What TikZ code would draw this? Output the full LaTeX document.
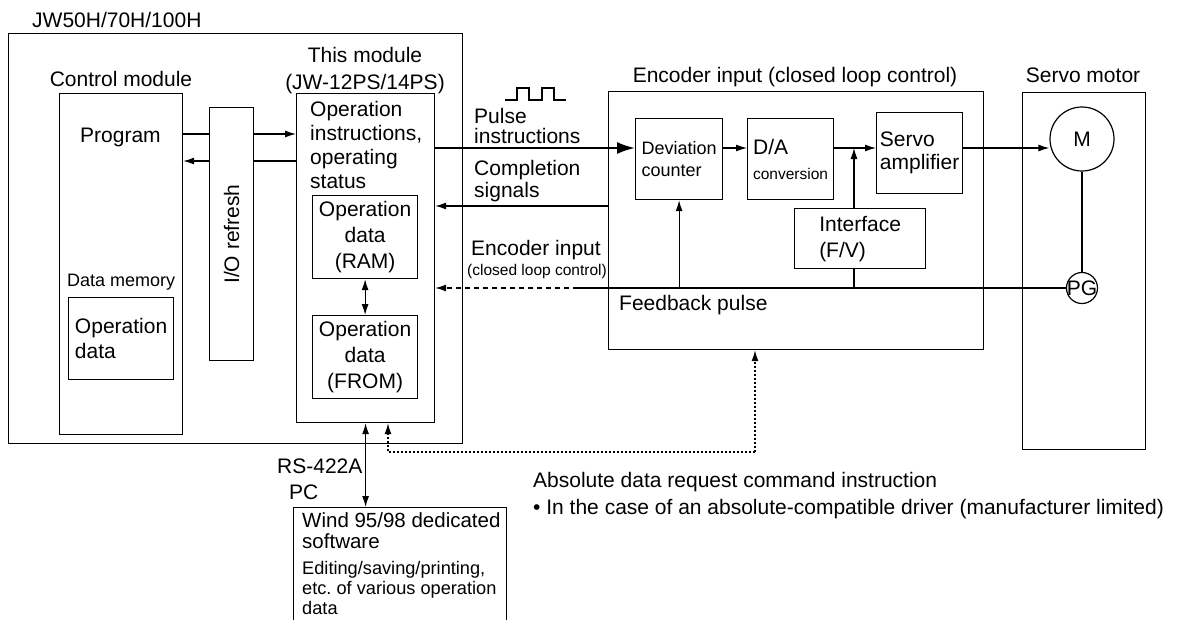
\documentclass[tikz,border=0pt]{standalone}
\usepackage{fontspec}
\setmainfont{Liberation Sans}
\usetikzlibrary{positioning,arrows.meta}
\frenchspacing

\tikzset{
  blk/.style={draw, line width=1.2pt, anchor=north west},
  ring/.style={draw, circle, line width=1.2pt},
  lbl/.style={anchor=base west, align=left},
  wire/.style={line width=1.2pt},
  arr/.style={wire, -{Latex[length=11pt,width=7pt]}},
  darr/.style={wire, {Latex[length=11pt,width=7pt]}-{Latex[length=11pt,width=7pt]}},
  bigarr/.style={line width=2pt, -{Latex[length=18pt,width=12pt]}},
  smallf/.style={font=\fontsize{18}{22}\selectfont},
  tinyf/.style={font=\fontsize{15.5}{18}\selectfont},
}

\begin{document}
\begin{tikzpicture}[x=1pt, y=-1pt, every node/.style={inner sep=0pt, font=\fontsize{21}{24}\selectfont}]
\useasboundingbox (0,0) rectangle (1188,619);

% boxes
\draw (8,33) node [blk, minimum width=454pt, minimum height=410pt] (jw) {};
\draw (59,93) node [blk, minimum width=123pt, minimum height=341pt] (ctrl) {};
\draw (209,107) node [blk, minimum width=44pt, minimum height=253pt] (io) {};
\draw (296,93) node [blk, minimum width=138pt, minimum height=329pt] (mod) {};
\draw (312,195) node [blk, minimum width=105pt, minimum height=83pt, align=center, font=\fontsize{21}{26}\selectfont] (ram) {Operation\\data\\(RAM)};
\draw (312,315) node [blk, minimum width=105pt, minimum height=83pt, align=center, font=\fontsize{21}{26}\selectfont] (from) {Operation\\data\\(FROM)};
\draw (68,297) node [blk, minimum width=105pt, minimum height=82pt, align=left, font=\fontsize{21}{25}\selectfont] (opd) {Operation\\data};
\draw (608,91) node [blk, minimum width=375pt, minimum height=258pt] (enc) {};
\draw (635,118) node [blk, minimum width=87pt, minimum height=81pt, align=left, smallf] (dev) {Deviation\\counter};
\draw (747,118) node [blk, minimum width=86pt, minimum height=81pt, align=left] (da) {D/A\\[1pt]{\fontsize{15.5}{18}\selectfont conversion}};
\draw (876,112) node [blk, minimum width=86pt, minimum height=81pt, align=left, font=\fontsize{21}{23}\selectfont] (amp) {Servo\\amplifier};
\draw (794,208) node [blk, minimum width=131pt, minimum height=60pt, align=left, font=\fontsize{21}{26}\selectfont] (intf) {Interface\\(F/V)};
\draw (1022,92) node [blk, minimum width=123pt, minimum height=357pt] (servo) {};
\draw (1082,139) node [ring, minimum size=64pt] (m) {M};
\draw (1082,288) node [ring, minimum size=31pt] (pg) {\makebox[0pt]{PG}};
\begin{scope}
  \clip (0,0) rectangle (1188,619);
  \draw (293,507) node [blk, minimum width=213pt, minimum height=140pt] (pc) {};
\end{scope}

% texts (base of multi-line nodes = last line)
\draw (32,27) node [lbl] (jwt) {JW50H/70H/100H};
\draw (121,86) node [anchor=base] (ctrlt) {Control module};
\draw (365,62) node [anchor=base] (modt) {This module};
\draw (365,89) node [anchor=base] (modt2) {(JW-12PS/14PS)};
\draw (80,142) node [lbl] (prog) {Program};
\draw (67,286) node [lbl, smallf] (dmem) {Data memory};
\node [rotate=90] (iot) at (io.center) {I/O refresh};
\draw (310,188) node [lbl] (opi) {Operation\\instructions,\\operating\\status};
\draw (474,143) node [lbl, font=\fontsize{21}{20}\selectfont] (pult) {Pulse\\instructions};
\draw (474,197) node [lbl, font=\fontsize{21}{22}\selectfont] (comt) {Completion\\signals};
\draw (471,255) node [lbl] (enct) {Encoder input};
\draw (467,275) node [lbl, tinyf] (enct2) {(closed loop control)};
\draw (795,82) node [anchor=base] (encl) {Encoder input (closed loop control)};
\draw (1083,82) node [anchor=base] (servol) {Servo motor};
\draw (619,310) node [lbl] (fbt) {Feedback pulse};
\draw (277,473) node [lbl] (rst) {RS-422A};
\draw (289,499) node [lbl] (pct) {PC};
\draw (302,548) node [lbl, font=\fontsize{20.5}{21}\selectfont] (pc1) {Wind 95/98 dedicated\\software};
\draw (302,614) node [lbl, font=\fontsize{18.2}{20}\selectfont] (pc2) {Editing/saving/printing,\\etc. of various operation\\data};
\draw (533,487) node [lbl] (abst) {Absolute data request command instruction};
\draw (533,514) node [lbl] (abst2) {\textbullet{} In the case of an absolute-compatible driver (manufacturer limited)};

% pulse sign
\draw [wire] (505,100) -- (517,100) -- (517,88) -- (529,88) -- (529,100) -- (542,100)
  -- (542,88) -- (554,88) -- (554,100) -- (566,100);

% connectors
\coordinate (pr) at (0,134);
\coordinate (st) at (0,161);
\coordinate (pu) at (0,148);
\coordinate (cs) at (0,206);
\coordinate (fb) at (0,288);
\coordinate (jn) at (854,148);
\coordinate (dsh) at (578,288);
\coordinate (dd) at (388,452);
\coordinate (ab) at (755,452);

\draw [wire]
  (ctrl.east |- pr) edge (io.west |- pr)
  (io.east |- pr) edge [arr] (mod.west |- pr)
  (mod.west |- st) edge (io.east |- st)
  (io.west |- st) edge [arr] (ctrl.east |- st)
  (ram.south) edge [darr] (from.north)
  (dev.east |- pu) edge [arr] (da.west |- pu)
  (da.east |- pu) edge [arr] (amp.west |- pu)
  (jn |- intf.north) edge [arr] (jn)
  (jn |- intf.south) edge (jn |- fb)
  (amp.east |- pu) edge [arr] (m.west |- pu)
  (m.south) edge (pg.north)
  (pg.west) edge (dsh)
  (dev.south |- fb) edge [arr] (dev.south)
  (enc.west |- cs) edge [arr] (mod.east |- cs)
  (mod.south) edge [darr] (mod.south |- pc.north)
;
\draw [bigarr] (mod.east |- pu) -- (dev.west |- pu);
\draw [arr, dash pattern=on 5pt off 4pt] (dsh) -- (mod.east |- fb);
\draw [arr, dash pattern=on 2pt off 2pt] (ab) -- (dd) -- (dd |- mod.south);
\draw [arr, dash pattern=on 2pt off 2pt] (ab) -- (ab |- enc.south);
\end{tikzpicture}
\end{document}
